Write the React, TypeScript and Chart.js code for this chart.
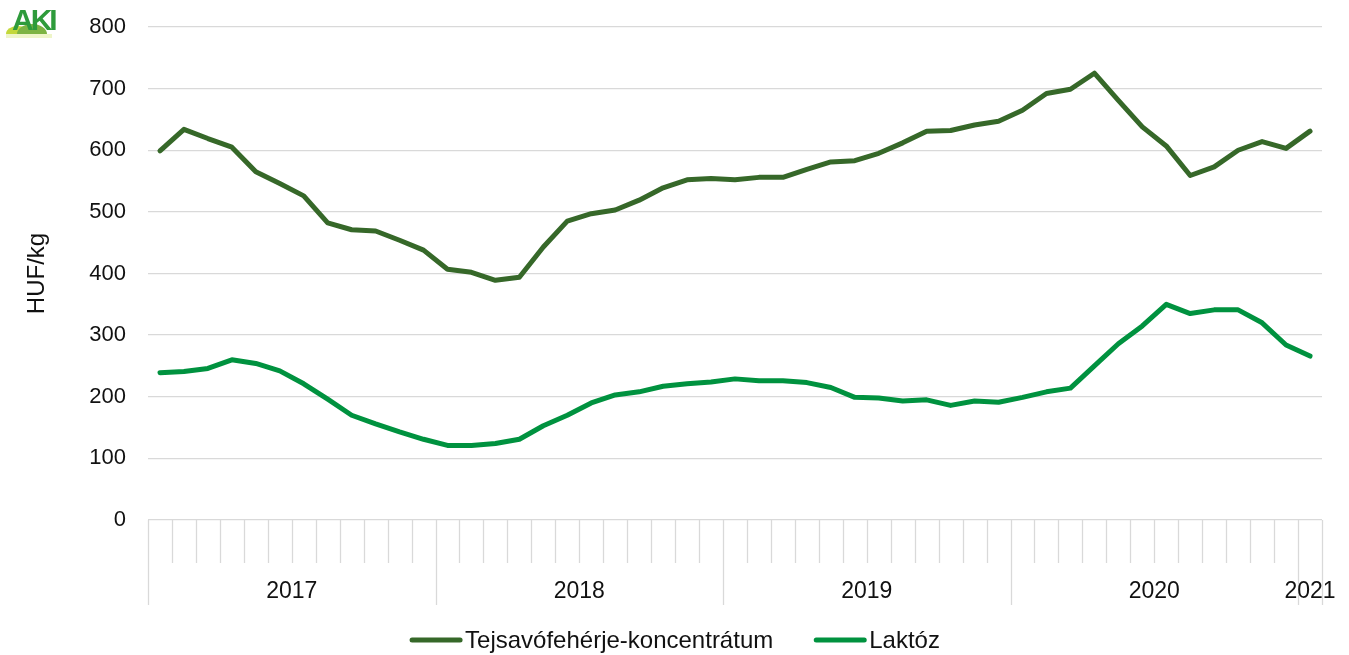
import { useEffect, useRef } from 'react';
import { Chart, registerables } from 'chart.js';

Chart.register(...registerables);

const FONT = '"Liberation Sans", Arial, sans-serif';
const TICK_SIZE = 22;
const YEAR_SIZE = 23;
const LEGEND_SIZE = 24;
const TITLE_SIZE = 24;

const months = [
  '2017-01', '2017-02', '2017-03', '2017-04', '2017-05', '2017-06', '2017-07', '2017-08', '2017-09', '2017-10', '2017-11', '2017-12',
  '2018-01', '2018-02', '2018-03', '2018-04', '2018-05', '2018-06', '2018-07', '2018-08', '2018-09', '2018-10', '2018-11', '2018-12',
  '2019-01', '2019-02', '2019-03', '2019-04', '2019-05', '2019-06', '2019-07', '2019-08', '2019-09', '2019-10', '2019-11', '2019-12',
  '2020-01', '2020-02', '2020-03', '2020-04', '2020-05', '2020-06', '2020-07', '2020-08', '2020-09', '2020-10', '2020-11', '2020-12',
  '2021-01',
];

const yearLabels = ['2017', '2018', '2019', '2020', '2021'];
const yearMonthCounts = [12, 12, 12, 12, 1];

const tejsavo = [
  599, 634, 619, 605, 565, 546, 526, 482, 471, 469, 454, 438,
  407, 402, 389, 394, 443, 485, 497, 503, 519, 539, 552, 554,
  552, 556, 556, 569, 581, 583, 595, 612, 631, 632, 641, 647,
  665, 692, 699, 725, 681, 638, 607, 559, 573, 600, 614, 603,
  631,
];

const laktoz = [
  239, 241, 246, 260, 254, 242, 221, 196, 170, 156, 143, 131,
  121, 121, 124, 131, 153, 170, 190, 203, 208, 217, 221, 224,
  229, 226, 226, 223, 215, 199, 198, 193, 195, 186, 193, 191,
  199, 208, 214, 250, 286, 315, 350, 335, 341, 341, 320, 284,
  266,
];

const seriesNames = ['Tejsavófehérje-koncentrátum', 'Laktóz'];
const seriesColors = ['#366829', '#00923f'];
const yTitle = 'HUF/kg';

const decorPlugin = {
  id: 'decor',
  afterDraw(chart: any) {
    const { ctx, chartArea, scales } = chart;
    const x = scales.x;
    const half = (x.getPixelForValue(1) - x.getPixelForValue(0)) / 2;
    const bottom = chartArea.bottom;
    ctx.save();
    // x-axis category boundaries
    const yearStarts = new Set<number>();
    let acc = 0;
    yearMonthCounts.forEach((c) => {
      yearStarts.add(acc);
      acc += c;
    });
    yearStarts.add(months.length);
    ctx.strokeStyle = '#d9d9d9';
    ctx.lineWidth = 1.3;
    for (let i = 0; i <= months.length; i++) {
      const bx = Math.round(i < months.length ? x.getPixelForValue(i) - half : x.getPixelForValue(months.length - 1) + half) + 0.5;
      const len = yearStarts.has(i) ? 85 : 43;
      ctx.beginPath();
      ctx.moveTo(bx, bottom);
      ctx.lineTo(bx, bottom + len);
      ctx.stroke();
    }
    // year labels
    ctx.fillStyle = '#111';
    ctx.font = `${YEAR_SIZE}px ${FONT}`;
    ctx.textAlign = 'center';
    ctx.textBaseline = 'middle';
    let start = 0;
    yearLabels.forEach((lab, k) => {
      const end = start + yearMonthCounts[k] - 1;
      const cx = (x.getPixelForValue(start) + x.getPixelForValue(end)) / 2;
      ctx.fillText(lab, cx, bottom + 72);
      start = end + 1;
    });
    // y title
    ctx.save();
    ctx.font = `${TITLE_SIZE}px ${FONT}`;
    ctx.translate(37, (chartArea.top + chartArea.bottom) / 2);
    ctx.rotate(-Math.PI / 2);
    ctx.fillText(yTitle, 0, 0);
    ctx.restore();
    // legend
    ctx.font = `${LEGEND_SIZE}px ${FONT}`;
    const markerW = 54;
    const gap = 2;
    const itemGap = 40;
    const widths = seriesNames.map((n) => ctx.measureText(n).width);
    const total = widths.reduce((s, w) => s + markerW + gap + w, 0) + itemGap * (seriesNames.length - 1);
    let lx = chart.width / 2 - total / 2;
    const ly = 640;
    ctx.textAlign = 'left';
    seriesNames.forEach((n, i) => {
      ctx.strokeStyle = seriesColors[i];
      ctx.lineWidth = 5;
      ctx.lineCap = 'round';
      ctx.beginPath();
      ctx.moveTo(lx + 3, ly);
      ctx.lineTo(lx + markerW - 3, ly);
      ctx.stroke();
      ctx.fillStyle = '#111';
      ctx.fillText(n, lx + markerW + gap, ly + 1);
      lx += markerW + gap + widths[i] + itemGap;
    });
    ctx.restore();
  },
};

export default function App() {
  const canvasRef = useRef<HTMLCanvasElement | null>(null);
  const logoRef = useRef<HTMLCanvasElement | null>(null);

  useEffect(() => {
    document.body.style.margin = '0';
    const canvas = canvasRef.current;
    if (!canvas) return;
    const chart = new Chart(canvas, {
      type: 'line',
      data: {
        labels: months,
        datasets: [
          {
            label: seriesNames[0],
            data: tejsavo,
            borderColor: seriesColors[0],
            backgroundColor: seriesColors[0],
            borderWidth: 5,
            pointRadius: 0,
            tension: 0,
            borderJoinStyle: 'round',
            borderCapStyle: 'round',
          },
          {
            label: seriesNames[1],
            data: laktoz,
            borderColor: seriesColors[1],
            backgroundColor: seriesColors[1],
            borderWidth: 5,
            pointRadius: 0,
            tension: 0,
            borderJoinStyle: 'round',
            borderCapStyle: 'round',
          },
        ],
      },
      options: {
        responsive: false,
        animation: false,
        layout: { padding: { top: 27, right: 27, left: 0, bottom: 0 } },
        plugins: {
          legend: { display: false },
          tooltip: { enabled: false },
        },
        scales: {
          x: {
            type: 'category',
            offset: true,
            grid: { display: false },
            border: { display: false },
            ticks: { display: false },
            afterFit(scale: any) {
              scale.height = 135;
            },
          },
          y: {
            min: 0,
            max: 800,
            ticks: {
              stepSize: 100,
              padding: 0,
              color: '#111',
              font: { family: FONT, size: TICK_SIZE },
            },
            grid: { color: '#d9d9d9', lineWidth: 1.3, drawTicks: true, tickLength: 22, tickColor: 'rgba(0,0,0,0)' },
            border: { display: false },
            afterFit(scale: any) {
              scale.width = 148;
            },
          },
        },
      },
      plugins: [decorPlugin],
    });
    return () => chart.destroy();
  }, []);

  useEffect(() => {
    const c = logoRef.current;
    if (!c) return;
    const ctx = c.getContext('2d');
    if (!ctx) return;
    ctx.clearRect(0, 0, c.width, c.height);
    // hills
    ctx.fillStyle = '#c3d83a';
    ctx.beginPath();
    ctx.ellipse(16, 32, 12, 8, 0, Math.PI, 2 * Math.PI);
    ctx.fill();
    ctx.fillStyle = '#7db443';
    ctx.beginPath();
    ctx.ellipse(30, 32, 15, 10, 0, Math.PI, 2 * Math.PI);
    ctx.fill();
    ctx.fillStyle = '#eef5c8';
    ctx.fillRect(4, 32, 46, 4);
  }, []);

  return (
    <div style={{ position: 'absolute', left: 0, top: 0, width: 1349, height: 655 }}>
      <canvas ref={canvasRef} width={1349} height={655} style={{ display: 'block' }} />
      <canvas ref={logoRef} width={60} height={44} style={{ position: 'absolute', left: 2, top: 2 }} />
      <div
        style={{
          position: 'absolute',
          left: 12,
          top: 5,
          fontFamily: FONT,
          fontWeight: 'bold',
          fontSize: 30,
          color: '#2e9b3b',
          letterSpacing: -3,
          lineHeight: '30px',
        }}
      >
        AKI
      </div>
    </div>
  );
}
